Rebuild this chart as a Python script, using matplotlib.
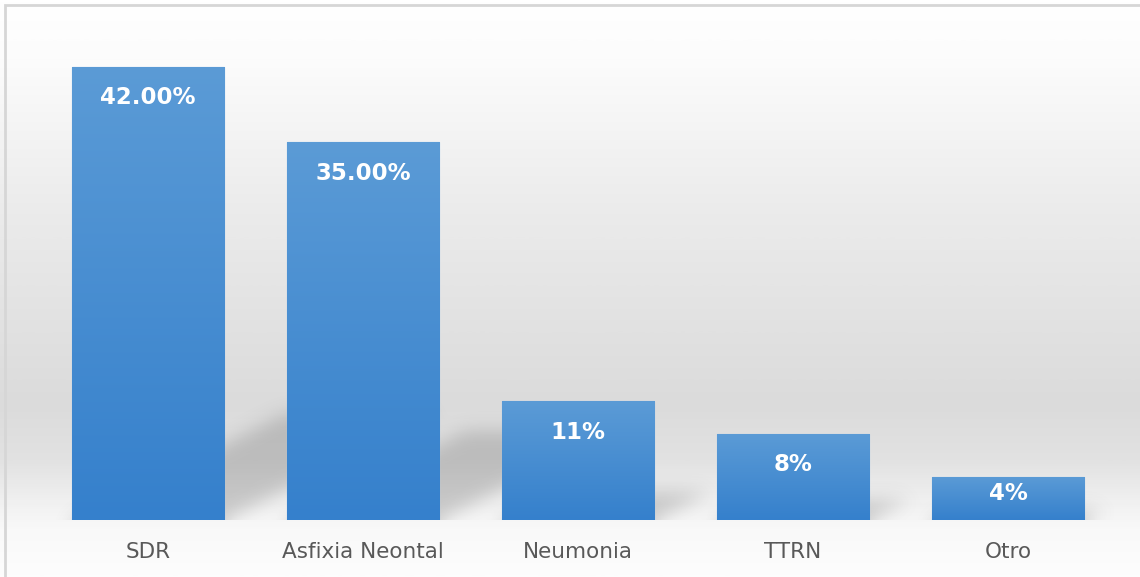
import numpy as np
import matplotlib
matplotlib.use("Agg")
import matplotlib.pyplot as plt
from matplotlib.colors import LinearSegmentedColormap
from matplotlib.patches import Rectangle

# Data
categories = ["SDR", "Asfixia Neontal", "Neumonia", "TTRN", "Otro"]
values = [42.0, 35.0, 11.0, 8.0, 4.0]
value_labels = ["42.00%", "35.00%", "11%", "8%", "4%"]

W, H, DPI = 1140, 577, 100
fig = plt.figure(figsize=(W / DPI, H / DPI), dpi=DPI)
fig.patch.set_facecolor("white")

# Backdrop: vertical gray gradient across the whole chart area
bg_ax = fig.add_axes([0, 0, 1, 1], zorder=-10)
bg_ax.set_axis_off()
stops = [(0.0, "#ffffff"), (0.10, "#fcfcfc"), (0.35, "#ececec"),
         (0.70, "#dbdbdb"), (0.80, "#e2e2e2"), (0.88, "#f2f2f2"),
         (0.92, "#f9f9f9"), (1.0, "#fdfdfd")]
bg_cmap = LinearSegmentedColormap.from_list("bg", stops)
grad = np.linspace(0, 1, 600).reshape(-1, 1)
bg_ax.imshow(grad, cmap=bg_cmap, aspect="auto", extent=[0, 1, 0, 1],
             origin="upper", vmin=0, vmax=1)
bg_ax.set_xlim(0, 1)
bg_ax.set_ylim(0, 1)
# Chart frame (top and left edges visible)
bg_ax.add_patch(Rectangle((5 / W, -0.1), 1.2, 1 - 5 / H + 0.1, fill=False,
                          edgecolor="#d6d6d6", linewidth=2.0,
                          transform=bg_ax.transAxes))

# Plot area
left, right = 40.5, 1115.5
base, top = 520.0, 34.5
ax = fig.add_axes([left / W, (H - base) / H, (right - left) / W, (base - top) / H])
ax.set_facecolor("none")
ymax = 45.0
ax.set_xlim(-0.5, len(categories) - 0.5)
ax.set_ylim(0, ymax)

x = np.arange(len(categories))
bar_w = 0.707

# Soft perspective shadows cast to the right of each bar
nx, ny = int(right - left), int(base - top)
px_per_x = (right - left) / (len(categories))
px_per_y = (base - top) / ymax
xs = -0.5 + (np.arange(nx) + 0.5) / nx * len(categories)
ys = (np.arange(ny) + 0.5) / ny * ymax
XX, YY = np.meshgrid(xs, ys)
slope = 2.0 * px_per_y / px_per_x
mask = np.zeros((ny, nx))
for xc, v in zip(x, values):
    hs = 0.235 * v
    inside = (YY <= hs) & (XX >= xc - bar_w / 2 + slope * YY) & (XX <= xc + bar_w / 2 + slope * YY)
    mask[inside] = 1.0


def blur(a, sigma):
    r = int(3 * sigma)
    k = np.exp(-0.5 * (np.arange(-r, r + 1) / sigma) ** 2)
    k /= k.sum()
    pad = np.pad(a, ((0, 0), (r, r)), mode="edge")
    a = np.array([np.convolve(row, k, mode="valid") for row in pad])
    pad = np.pad(a, ((r, r), (0, 0)), mode="edge")
    a = np.array([np.convolve(col, k, mode="valid") for col in pad.T]).T
    return a


soft = blur(mask, 9.0)
shadow = np.zeros((ny, nx, 4))
shadow[..., :3] = 0.35
shadow[..., 3] = 0.27 * soft
ax.imshow(shadow, extent=[-0.5, len(categories) - 0.5, 0, ymax], origin="lower",
          aspect="auto", zorder=1, interpolation="bilinear")

# Bars with a light-to-dark vertical gradient
bars = ax.bar(x, values, width=bar_w, color="#4a8fd3", edgecolor="#a9cbec",
              linewidth=0.9, zorder=2)
bar_cmap = LinearSegmentedColormap.from_list("bar", ["#3580cc", "#5b9bd6"])
g = np.linspace(0, 1, 256).reshape(-1, 1)
for rect in bars:
    x0, w, h = rect.get_x(), rect.get_width(), rect.get_height()
    im = ax.imshow(g, cmap=bar_cmap, extent=[x0, x0 + w, 0, h], origin="lower",
                   aspect="auto", zorder=2.5)
    im.set_clip_path(rect)

# Value labels inside the top of each bar
for xc, v, lab in zip(x, values, value_labels):
    yl = max(v - 31 / px_per_y, 2.5)
    ax.text(xc, yl, lab, ha="center", va="center", color="white",
            fontsize=16.5, fontweight="bold", zorder=4)

ax.set_xticks(x)
ax.set_xticklabels(categories, fontsize=15.5, color="#595959")
ax.tick_params(axis="x", length=0, pad=16)
ax.set_yticks([])
for s in ax.spines.values():
    s.set_visible(False)

fig.savefig("out.png", dpi=DPI)
